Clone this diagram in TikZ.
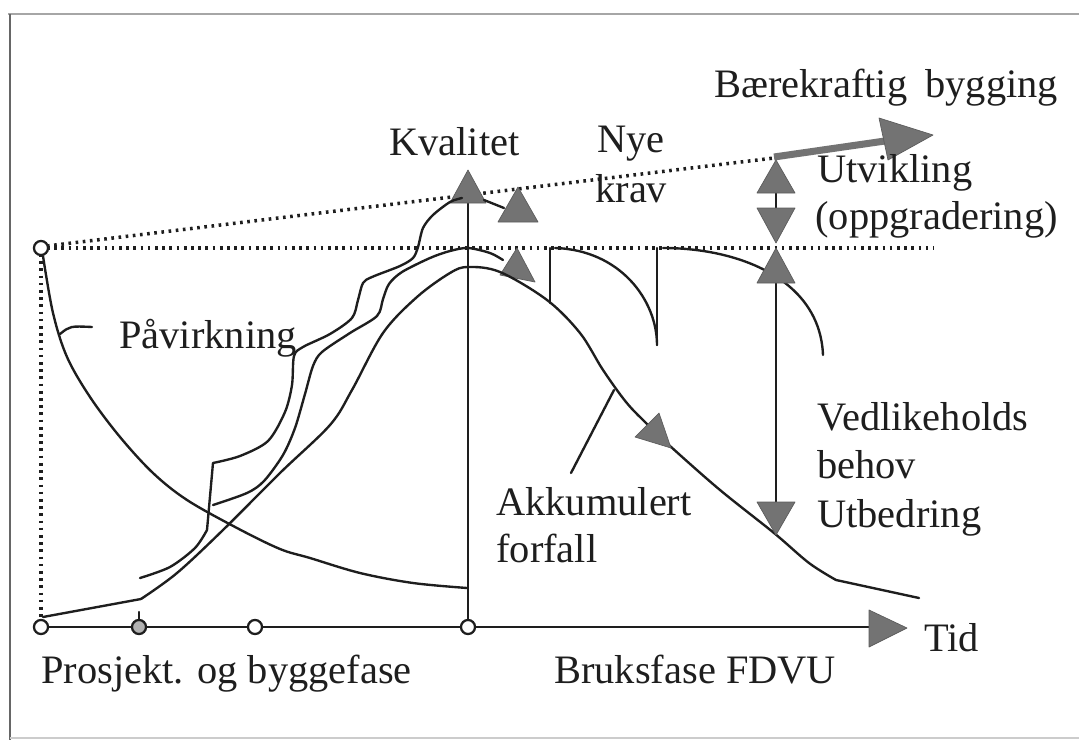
\documentclass[tikz,border=0pt]{standalone}
\usepackage{fontspec}
\setmainfont{Liberation Serif}
\begin{document}
\definecolor{ink}{RGB}{30,30,30}
\definecolor{headgray}{RGB}{115,115,115}
\begin{tikzpicture}[x=0.02cm,y=-0.02cm,
  curve/.style={draw=ink,line width=1.35pt,line join=round,line cap=round},
  dotline/.style={draw=ink,line width=2pt,dash pattern=on 1.5pt off 2.6pt},
  head/.style={fill=headgray,draw=headgray!80!black,line width=0.4pt,line join=round},
  phasept/.style={draw=ink,line width=1.3pt,fill=white,circle,inner sep=0pt,minimum size=8pt},
  lbl/.style={inner sep=0pt,anchor=base west,text=ink,font=\fontsize{23}{27}\selectfont}]
\useasboundingbox (0,0) rectangle (1079,740);
% frame
\draw[gray!70,line width=1.2pt] (8,14) -- (1079,14);
\draw[gray!80!black,line width=1.2pt] (10,14) -- (10,740);
\draw[gray!40,line width=1pt] (10,738) -- (1079,738);

% reference levels
\draw[dotline] (47,248) -- (934,248);
\draw[dotline] (47,246) -- (774,158);
\draw[dotline] (41,254) -- (41,621);

% growth arrow (sustainable building)
\draw[draw=headgray,line width=4pt] (774,157) -- (885,141);
\fill[head] (933,135) -- (879,118) -- (888,160) -- cycle;

% time axis
\draw[curve] (46,627) -- (869,627);
\fill[head] (907,628) -- (869,610) -- (869,647) -- cycle;

% quality axis
\draw[curve] (468,622) -- (468,200);
\fill[head] (468,170) -- (450,203) -- (486,203) -- cycle;

% impact curve
\draw[curve] plot[smooth,tension=0.55] coordinates {(43,256) (53,313) (67,357) (90,397) (120,437) (153,473) (187,500) (237,528) (280,549) (310,558) (360,573) (413,583) (467,588)};
\draw[curve] (60,334) .. controls (70,326) .. (92,327);

% upper (stepped) quality curve
\draw[curve] plot[smooth,tension=0.5] coordinates {(140,578) (170,567) (195,548) (207,530)} -- (213,463)
  -- plot[smooth,tension=0.5] coordinates {(213,463) (240,456) (268,441) (285,412) (292,385) (294,356) (303,347) (330,334) (352,318) (358,300) (363,283) (372,277) (400,266) (413,258) (418,247) (423,228) (433,215) (450,202) (462,198)};
\draw[curve] (484,200) -- (504,208);
\fill[head] (518,187) -- (498,222) -- (538,222) -- cycle;

% middle quality curve
\draw[curve] plot[smooth,tension=0.5] coordinates {(213,505) (247,493) (264,481) (283,455) (295,428) (305,394) (313,366) (322,352) (350,333) (377,316) (383,299) (389,284) (402,272) (430,258) (450,251) (468,248) (490,253) (503,260)};
\fill[head] (517,248) -- (500,275) -- (535,282) -- cycle;

% accumulated decay curve
\draw[curve] (43,617) -- (141,599);
\draw[curve] plot[smooth,tension=0.55] coordinates {(141,599) (177,573) (223,530) (280,473) (330,425) (352,390) (383,333) (417,297) (450,273) (468,267) (500,272) (547,300) (580,333) (603,370) (626,402) (646,423) (670,446) (720,490) (774,533) (809,563) (836,580)} -- (919,598);
\fill[head] (659,413) -- (635,437) -- (671,448) -- cycle;
\draw[curve] (614,390) -- (571,473);

% maintenance cycles
\draw[curve] (550,248) -- (550,303);
\draw[curve] (555,248) .. controls (620,250) and (657,300) .. (657,345);
\draw[curve] (657,248) -- (657,345);
\draw[curve] (663,248) .. controls (740,248) and (820,280) .. (823,355);

% maintenance need / repair
\draw[curve] (776,283) -- (776,502);
\fill[head] (776,248) -- (757,283) -- (795,283) -- cycle;
\fill[head] (776,535) -- (757,502) -- (795,502) -- cycle;
% development / upgrading
\draw[curve] (776,192) -- (776,209);
\fill[head] (776,160) -- (757,193) -- (795,193) -- cycle;
\fill[head] (776,243) -- (757,208) -- (795,208) -- cycle;

% phase markers
\node[phasept] (m0) at (41,248) {};
\node[phasept] (m1) at (41,627) {};
\node[phasept,fill=gray!60] (m2) at (139,627) {};
\node[phasept] (m3) at (255,627) {};
\node[phasept] (m4) at (468,627) {};
\draw[curve] (139,612) -- (139,620);

% labels
\node[lbl] (kval) at (389,155) {Kvalitet};
\node[lbl] (nye) at (597,153) {Nye};
\node[lbl] (krav) at (595,202) {krav};
\node[lbl] (baer) at (714,98) {Bærekraftig\hspace{0.45em}bygging};
\node[lbl] (utv) at (817,182) {Utvikling};
\node[lbl] (oppg) at (815,230) {(oppgradering)};
\node[lbl] (pav) at (119,348) {Påvirkning};
\node[lbl] (vedl) at (817,430) {Vedlikeholds};
\node[lbl] (behov) at (817,478) {behov};
\node[lbl] (utb) at (817,527) {Utbedring};
\node[lbl] (akk) at (496,515) {Akkumulert};
\node[lbl] (forf) at (496,562) {forfall};
\node[lbl] (tid) at (924,651) {Tid};
\node[lbl] (pros) at (41,683) {Prosjekt. og byggefase};
\node[lbl] (bruk) at (554,683) {Bruksfase FDVU};
\end{tikzpicture}
\end{document}
